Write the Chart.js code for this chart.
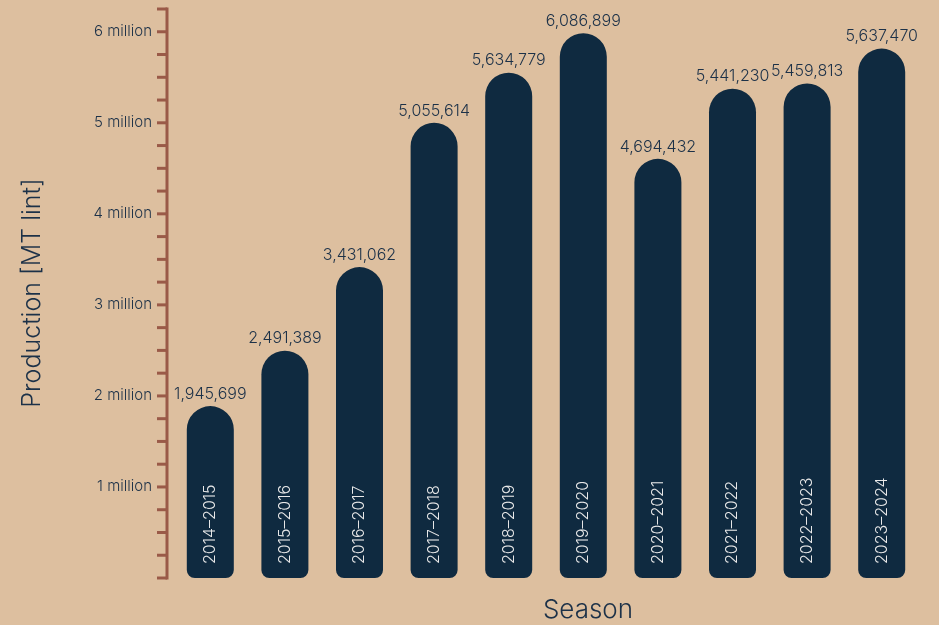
<!DOCTYPE html>
<html>
<head>
<meta charset="utf-8">
<script src="https://cdn.jsdelivr.net/npm/chart.js@4"></script>
<style>
  html, body { margin: 0; padding: 0; background: #ddbf9f; }
  canvas { display: block; }
</style>
</head>
<body>
<canvas id="chart" width="939" height="625"></canvas>
<script>
// Seasons on the x axis
const seasons = ['2014–2015', '2015–2016', '2016–2017', '2017–2018', '2018–2019',
                 '2019–2020', '2020–2021', '2021–2022', '2022–2023', '2023–2024'];

// Bar heights
const production = [1888000, 2497000, 3415000, 5000000, 5551000,
                    5984000, 4604000, 5375000, 5433000, 5815000];

// Numbers printed above the bars
const printedValues = [1945699, 2491389, 3431062, 5055614, 5634779,
                       6086899, 4694432, 5441230, 5459813, 5637470];

const yMax = 6250000;
const yStep = 250000;

const ink = '#1c3148';
const barColor = '#0f2a40';
const axisColor = '#9a5a48';
const fontFamily = 'Inter, "Noto Sans", sans-serif';

// Brown ruler-style axis line with a tick every quarter million
const rulerAxis = {
    id: 'rulerAxis',
    afterDraw(chart) {
        const { ctx, chartArea, scales } = chart;
        const x = chartArea.left - 6;
        ctx.save();
        ctx.strokeStyle = axisColor;
        ctx.lineWidth = 3;
        ctx.beginPath();
        ctx.moveTo(x, scales.y.getPixelForValue(yMax) - 1.5);
        ctx.lineTo(x, scales.y.getPixelForValue(0) + 1.5);
        ctx.stroke();
        for (let v = 0; v <= yMax; v += yStep) {
            const y = scales.y.getPixelForValue(v);
            ctx.beginPath();
            ctx.moveTo(x - 10, y);
            ctx.lineTo(x, y);
            ctx.stroke();
        }
        ctx.restore();
    }
};

// Value labels above bars and season labels inside bars, plus axis titles
const barText = {
    id: 'barText',
    afterDatasetsDraw(chart) {
        const { ctx, chartArea } = chart;
        const meta = chart.getDatasetMeta(0);
        ctx.save();
        meta.data.forEach((bar, i) => {
            ctx.fillStyle = ink;
            ctx.font = '300 16px ' + fontFamily;
            ctx.textAlign = 'center';
            ctx.textBaseline = 'middle';
            ctx.fillText(printedValues[i].toLocaleString('en-US'), bar.x, bar.y - 12);

            ctx.save();
            ctx.translate(bar.x, chartArea.bottom - 14);
            ctx.rotate(-Math.PI / 2);
            ctx.fillStyle = '#e9e9e9';
            ctx.font = '300 16px ' + fontFamily;
            ctx.textAlign = 'left';
            ctx.fillText(seasons[i], 0, 0);
            ctx.restore();
        });

        ctx.fillStyle = ink;
        ctx.font = '300 26px ' + fontFamily;
        ctx.textAlign = 'center';
        ctx.textBaseline = 'middle';
        ctx.fillText('Season', 588, 610);

        ctx.save();
        ctx.translate(32, 293);
        ctx.rotate(-Math.PI / 2);
        ctx.font = '300 25px ' + fontFamily;
        ctx.fillText('Production [MT lint]', 0, 0);
        ctx.restore();
        ctx.restore();
    }
};

new Chart(document.getElementById('chart'), {
    type: 'bar',
    data: {
        labels: seasons,
        datasets: [{
            data: production,
            backgroundColor: barColor,
            borderSkipped: false,
            borderRadius: { topLeft: 24, topRight: 24, bottomLeft: 8, bottomRight: 8 },
            barPercentage: 0.63,
            categoryPercentage: 1
        }]
    },
    options: {
        responsive: false,
        animation: false,
        layout: { padding: { top: 9, right: 20, bottom: 47, left: 0 } },
        plugins: { legend: { display: false }, tooltip: { enabled: false } },
        scales: {
            x: { display: false },
            y: {
                min: 0,
                max: yMax,
                afterFit: scale => {
                    scale.width = 173;
                    scale.paddingTop = 0;
                    scale.paddingBottom = 0;
                },
                grid: { display: false, drawTicks: false },
                border: { display: false },
                ticks: {
                    stepSize: yStep,
                    autoSkip: false,
                    padding: 21,
                    color: ink,
                    font: { family: fontFamily, size: 15, weight: 300 },
                    callback: v => (v > 0 && v % 1000000 === 0) ? (v / 1000000) + ' million' : ''
                }
            }
        }
    },
    plugins: [rulerAxis, barText]
});
</script>
</body>
</html>
